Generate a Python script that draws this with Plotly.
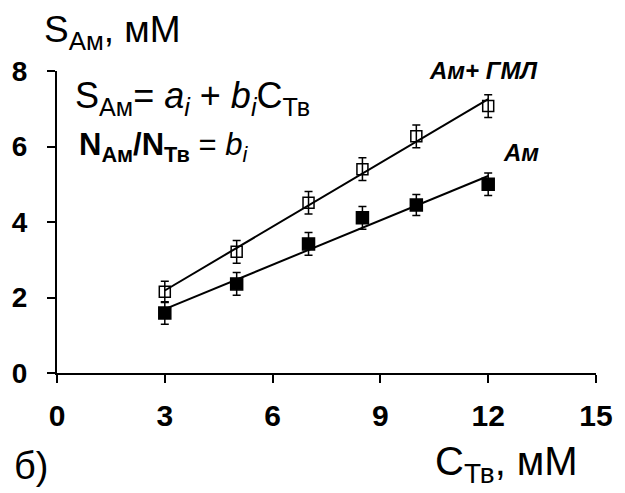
import numpy as np
import plotly.graph_objects as go

# ---- data ----
c_tv = [3, 5, 7, 8.5, 10, 12]
s_am_gml = [2.15, 3.21, 4.51, 5.40, 6.27, 7.07]
err_am_gml = [0.28, 0.30, 0.30, 0.30, 0.30, 0.30]
s_am = [1.59, 2.36, 3.42, 4.11, 4.45, 5.00]
err_am = [0.30, 0.30, 0.30, 0.30, 0.28, 0.30]
x_ticks = [0, 3, 6, 9, 12, 15]
y_ticks = [0, 2, 4, 6, 8]

FONT = "Liberation Sans"
W, H = 625, 493
L, R, T, B = 56, 20, 71, 120

def fit_line(x, y):
    b, a = np.polyfit(x, y, 1)
    xs = np.array([min(x), max(x)])
    return xs, a + b * xs

fig = go.Figure()

for ys, err, sym, msize in [(s_am_gml, err_am_gml, "square-open", 11),
                             (s_am, err_am, "square", 12)]:
    fx, fy = fit_line(c_tv, ys)
    fig.add_trace(go.Scatter(x=fx, y=fy, mode="lines",
                             line=dict(color="black", width=2),
                             showlegend=False, hoverinfo="skip"))
    fig.add_trace(go.Scatter(
        x=c_tv, y=ys, mode="markers",
        marker=dict(symbol=sym, size=msize, color="black",
                    line=dict(color="black", width=1.5)),
        error_y=dict(type="data", array=err, color="black",
                     thickness=1.5, width=4),
        showlegend=False))

def px(xp):
    return (xp - L) / (W - L - R)

def py(yp):
    return (H - B - yp) / (H - T - B)

def ann(text, x, y, size, bold=False, italic=False, xanchor="left", yanchor="middle"):
    if bold:
        text = "<b>" + text + "</b>"
    if italic:
        text = "<i>" + text + "</i>"
    fig.add_annotation(text=text, x=px(x), y=py(y), xref="paper", yref="paper",
                       xanchor=xanchor, yanchor=yanchor, showarrow=False,
                       font=dict(family=FONT, size=size, color="black"))

ann("S<sub>Ам</sub>, мМ", 41, 32, 37)
ann("S<sub>Ам</sub>= <i>a<sub>i</sub></i> + <i>b<sub>i</sub></i>C<sub>Тв</sub>", 72, 98, 36)
ann("<b>N<sub>Ам</sub>/N<sub>Тв</sub></b> = <i>b<sub>i</sub></i>", 76, 147, 31)
ann("Ам+ ГМЛ", 433, 70, 24, bold=True, italic=True)
ann("Ам", 508, 152, 24, bold=True, italic=True)
ann("б)", 10, 466, 38)
ann("C<sub>Тв</sub>, мМ", 439, 464, 40)

fig.update_layout(
    width=W, height=H,
    margin=dict(l=L, r=R, t=T, b=B),
    paper_bgcolor="white", plot_bgcolor="white",
    font=dict(family=FONT, color="black"),
    xaxis=dict(range=[0, 15], tickvals=x_ticks, ticktext=[str(v) for v in x_ticks],
               showgrid=False, zeroline=False, showline=True,
               linecolor="black", linewidth=2, ticks="outside", ticklen=8,
               tickwidth=2, tickcolor="black", ticklabelstandoff=7,
               tickfont=dict(family=FONT, size=30, color="black", weight="bold")),
    yaxis=dict(range=[0, 8], tickvals=y_ticks, ticktext=[str(v) for v in y_ticks],
               showgrid=False, zeroline=False, showline=True,
               linecolor="black", linewidth=2, ticks="outside", ticklen=8,
               tickwidth=2, tickcolor="black", ticklabelstandoff=14,
               tickfont=dict(family=FONT, size=28, color="black", weight="bold")),
)

fig.write_html("out.html")
